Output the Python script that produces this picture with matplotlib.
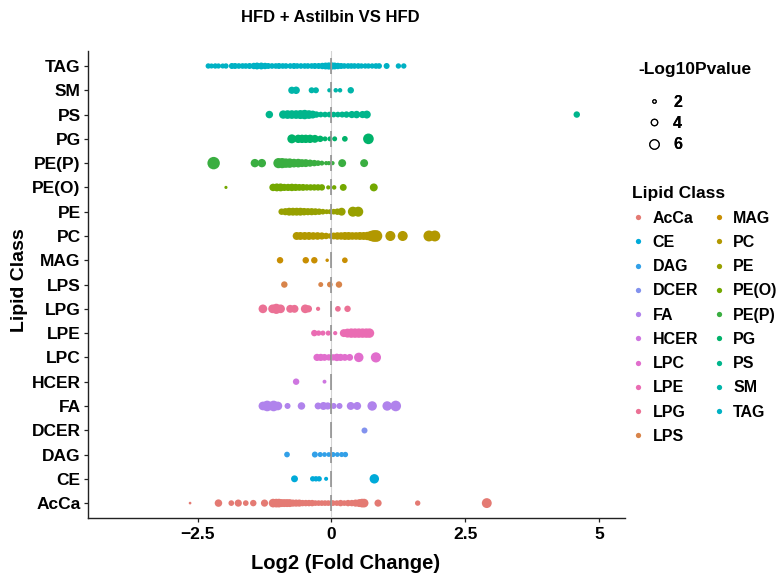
import numpy as np
import pandas as pd
import matplotlib
matplotlib.use("Agg")
import matplotlib.pyplot as plt
from matplotlib.lines import Line2D

# lipid classes, bottom to top on the y axis
classes = ["AcCa", "CE", "DAG", "DCER", "FA", "HCER", "LPC", "LPE", "LPG",
           "LPS", "MAG", "PC", "PE", "PE(O)", "PE(P)", "PG", "PS", "SM", "TAG"]

# log2 fold change and -log10 p value
ACCA_FC = [-2.64, -2.11, -1.87, -1.74, -1.60, -1.46, -1.25, -1.09, -1.03, -0.98,
           -0.93, -0.88, -0.83, -0.78, -0.72, -0.66, -0.60, -0.54, -0.48, -0.42,
           -0.36, -0.30, -0.24, -0.18, -0.12, -0.06, 0.00, 0.03, 0.10, 0.17,
           0.24, 0.31, 0.38, 0.45, 0.52, 0.57, 0.61, 0.87, 1.61, 2.90]
ACCA_P = [1.0, 4.2, 3.0, 4.0, 3.0, 3.5, 4.0, 5.0, 5.0, 5.0,
          4.5, 4.5, 4.5, 4.5, 4.0, 4.0, 4.0, 3.5, 3.5, 3.5,
          3.5, 3.0, 3.0, 3.0, 3.0, 3.0, 3.0, 3.0, 3.0, 3.5,
          3.0, 3.5, 3.5, 4.0, 4.5, 5.0, 5.0, 4.0, 2.8, 5.8]

CE_FC = [-0.69, -0.35, -0.29, -0.23, -0.10, 0.80]
CE_P = [3.8, 2.8, 2.8, 2.8, 1.9, 5.5]

DAG_FC = [-0.83, -0.31, -0.21, -0.13, -0.05, 0.03, 0.11, 0.19, 0.26]
DAG_P = [3.0, 3.2, 2.6, 2.4, 2.4, 2.6, 2.4, 2.6, 2.8]

DCER_FC = [0.61]
DCER_P = [3.2]

FA_FC = [-1.28, -1.20, -1.08, -1.00, -0.82, -0.56, -0.25, -0.15, -0.07, 0.04,
         0.15, 0.36, 0.48, 0.76, 1.04, 1.20]
FA_P = [5.0, 6.3, 6.3, 5.0, 3.2, 4.2, 3.8, 4.5, 4.0, 3.2,
        3.2, 4.5, 4.5, 5.5, 5.5, 6.3]

HCER_FC = [-0.66, -0.13]
HCER_P = [3.5, 1.8]

LPC_FC = [-0.27, -0.20, -0.13, -0.05, 0.03, 0.10, 0.17, 0.25, 0.34, 0.51, 0.83]
LPC_P = [4.0, 4.0, 3.8, 3.5, 3.5, 4.2, 4.0, 3.8, 3.8, 5.5, 6.0]

LPE_FC = [-0.32, -0.24, -0.16, -0.06, 0.07, 0.23, 0.30, 0.37, 0.44, 0.51,
          0.58, 0.65, 0.71]
LPE_P = [3.5, 2.8, 2.6, 2.6, 2.0, 4.5, 5.2, 5.5, 5.5, 5.5,
         5.5, 5.5, 5.5]

LPG_FC = [-1.28, -1.10, -1.03, -0.95, -0.77, -0.69, -0.49, -0.43, -0.25, 0.12, 0.30]
LPG_P = [5.0, 5.0, 6.0, 5.0, 4.5, 4.5, 5.0, 4.0, 2.0, 3.0, 3.5]

LPS_FC = [-0.88, -0.20, -0.03, 0.14]
LPS_P = [3.5, 2.5, 3.0, 3.5]

MAG_FC = [-0.96, -0.48, -0.32, -0.08, 0.25]
MAG_P = [3.5, 3.5, 3.5, 1.5, 3.0]

PC_FC = [-0.65, -0.58, -0.50, -0.42, -0.34, -0.26, -0.18, -0.10, -0.03, 0.04,
         0.11, 0.18, 0.25, 0.32, 0.39, 0.46, 0.53, 0.60, 0.67, 0.74,
         0.79, 0.84, 1.10, 1.33, 1.82, 1.93]
PC_P = [4.5, 4.5, 4.5, 4.5, 4.3, 4.3, 4.0, 3.5, 2.8, 3.8,
        4.2, 4.2, 4.5, 4.5, 4.3, 4.3, 4.5, 4.5, 4.8, 6.0,
        7.0, 7.0, 5.9, 5.9, 6.5, 6.5]

PE_FC = [-0.93, -0.86, -0.79, -0.72, -0.65, -0.58, -0.51, -0.44, -0.37, -0.30,
         -0.23, -0.16, -0.09, -0.03, 0.04, 0.11, 0.19, 0.40, 0.50]
PE_P = [3.5, 4.0, 4.5, 4.5, 4.5, 4.5, 4.2, 4.0, 4.0, 3.8,
        3.5, 3.0, 2.5, 2.5, 3.0, 3.5, 4.5, 5.9, 5.9]

PEO_FC = [-1.97, -1.09, -1.02, -0.95, -0.88, -0.81, -0.74, -0.67, -0.60, -0.53,
          -0.46, -0.39, -0.32, -0.25, -0.18, -0.06, 0.05, 0.22, 0.79]
PEO_P = [1.3, 4.2, 4.5, 4.5, 4.0, 4.0, 4.2, 4.0, 3.8, 3.8,
         3.5, 3.5, 3.5, 3.5, 3.5, 2.0, 2.2, 3.8, 4.5]

PEP_FC = [-2.20, -1.43, -1.30, -0.99, -0.92, -0.85, -0.78, -0.70, -0.62, -0.55,
          -0.48, -0.40, -0.32, -0.25, -0.18, -0.10, -0.05, 0.02, 0.20, 0.61]
PEP_P = [7.5, 4.8, 4.8, 6.0, 6.0, 5.5, 5.5, 5.0, 5.0, 4.5,
         4.5, 4.0, 3.5, 3.0, 2.5, 2.0, 2.0, 2.0, 4.5, 4.5]

PG_FC = [-0.74, -0.62, -0.55, -0.48, -0.40, -0.31, -0.21, -0.12, -0.03, 0.06, 0.25, 0.69]
PG_P = [5.2, 4.8, 4.8, 4.8, 4.8, 4.5, 3.5, 2.5, 2.5, 2.5, 3.0, 6.3]

PS_FC = [-1.16, -0.90, -0.82, -0.74, -0.66, -0.58, -0.50, -0.42, -0.35, -0.28,
         -0.20, -0.12, -0.04, 0.04, 0.12, 0.20, 0.28, 0.38, 0.47, 0.58,
         0.66, 4.58]
PS_P = [4.2, 4.8, 5.0, 5.0, 5.0, 5.2, 5.5, 5.0, 4.5, 3.5,
        3.0, 3.0, 3.0, 3.0, 3.0, 3.2, 3.5, 4.0, 4.2, 4.0,
        4.5, 3.5]

SM_FC = [-0.74, -0.66, -0.37, -0.29, -0.04, 0.08, 0.16, 0.36]
SM_P = [4.0, 4.2, 3.2, 3.2, 2.0, 2.2, 2.2, 3.5]

TAG_FC = [-2.30, -2.24, -2.17, -2.11, -2.03, -1.97, -1.86, -1.80, -1.73, -1.66,
          -1.60, -1.53, -1.45, -1.39, -1.31, -1.24, -1.18, -1.11, -1.04, -0.98,
          -0.91, -0.85, -0.77, -0.70, -0.64, -0.57, -0.50, -0.44, -0.37, -0.31,
          -0.24, -0.17, -0.11, -0.05, 0.01, 0.06, 0.12, 0.18, 0.24, 0.31,
          0.37, 0.43, 0.50, 0.56, 0.63, 0.69, 0.76, 0.83, 0.89, 1.03,
          1.25, 1.35]
TAG_P = [2.8, 2.6, 2.8, 2.7, 2.6, 2.8, 3.2, 3.2, 3.0, 3.0,
         3.0, 3.2, 3.5, 3.8, 3.8, 3.5, 3.2, 3.0, 3.0, 3.2,
         3.0, 3.0, 3.0, 3.2, 3.0, 3.0, 3.0, 3.0, 3.0, 3.2,
         3.2, 3.5, 3.8, 4.0, 4.0, 3.8, 3.5, 3.2, 3.0, 3.0,
         3.0, 3.0, 3.0, 2.8, 2.8, 2.8, 2.8, 3.0, 3.0, 3.2,
         2.8, 2.8]

fc_lists = [ACCA_FC, CE_FC, DAG_FC, DCER_FC, FA_FC, HCER_FC, LPC_FC, LPE_FC,
            LPG_FC, LPS_FC, MAG_FC, PC_FC, PE_FC, PEO_FC, PEP_FC, PG_FC,
            PS_FC, SM_FC, TAG_FC]
p_lists = [ACCA_P, CE_P, DAG_P, DCER_P, FA_P, HCER_P, LPC_P, LPE_P,
           LPG_P, LPS_P, MAG_P, PC_P, PE_P, PEO_P, PEP_P, PG_P,
           PS_P, SM_P, TAG_P]

size_breaks = [2, 4, 6]

# order of the classes round the colour wheel
hue_order = ["AcCa", "LPS", "MAG", "PC", "PE", "PE(O)", "PE(P)", "PG", "PS",
             "SM", "TAG", "CE", "DAG", "DCER", "FA", "HCER", "LPC", "LPE", "LPG"]

FONT = "Liberation Sans"
DPI = 100


def hcl(h, c=100.0, l=65.0):
    """polar Luv to sRGB, like R's hcl()"""
    h = np.deg2rad(h)
    u = c * np.cos(h)
    v = c * np.sin(h)
    xn, yn, zn = 95.047, 100.0, 108.883
    un = 4 * xn / (xn + 15 * yn + 3 * zn)
    vn = 9 * yn / (xn + 15 * yn + 3 * zn)
    y = yn * ((l + 16) / 116.0) ** 3
    up = u / (13 * l) + un
    vp = v / (13 * l) + vn
    x = 9.0 * y * up / (4 * vp)
    z = y * (12 - 3 * up - 20 * vp) / (4 * vp)
    m = np.array([[3.240479, -1.537150, -0.498535],
                  [-0.969256, 1.875992, 0.041556],
                  [0.055648, -0.204043, 1.057311]])
    rgb = m.dot(np.array([x, y, z]) / 100.0)
    rgb = np.where(rgb <= 0.0031308, 12.92 * rgb,
                   1.055 * np.power(np.clip(rgb, 0, None), 1 / 2.4) - 0.055)
    return tuple(np.clip(rgb, 0, 1))


def class_colors():
    n = len(hue_order)
    hues = 15 + 360.0 * np.arange(n) / n
    # the picture is a little duller than the stock ggplot hues
    return dict((name, hcl(hh, c=80, l=63)) for name, hh in zip(hue_order, hues))


def diameter_pt(p):
    # -log10 p -> marker diameter in points
    return (1.2 + 1.5 * np.asarray(p)) * 72.0 / DPI


def make_table():
    frames = []
    for name, fc, p in zip(classes, fc_lists, p_lists):
        frames.append(pd.DataFrame({"lipid": name, "fc": fc, "p": p}))
    return pd.concat(frames, ignore_index=True)


def main():
    data = make_table()
    colors = class_colors()

    fig = plt.figure(figsize=(7.78, 5.81), dpi=DPI)
    ax = fig.add_axes([0.1135, 0.109, 0.6898, 0.8025])

    for ii, name in enumerate(classes):
        sub = data[data["lipid"] == name]
        ax.scatter(sub["fc"], np.full(len(sub), ii),
                   s=diameter_pt(sub["p"]) ** 2, color=colors[name],
                   linewidths=0, zorder=2)

    # zero line, darker where it crosses a row
    ax.axvline(0, color="#d4d4d4", lw=0.8, zorder=3)
    ypos = np.arange(len(classes))
    ax.vlines(np.zeros(len(ypos)), ypos - 0.33, ypos + 0.33,
              color="#8a8a8a", lw=1.1, zorder=3)

    ax.set_xlim(-4.54, 5.48)
    ax.set_ylim(-0.6, len(classes) - 0.4)
    ax.set_xticks([-2.5, 0, 2.5, 5])
    ax.set_xticklabels(["\u22122.5", "0", "2.5", "5"])
    ax.set_yticks(ypos)
    ax.set_yticklabels(classes)
    for spine in ["top", "right"]:
        ax.spines[spine].set_visible(False)
    for spine in ["left", "bottom"]:
        ax.spines[spine].set_color("#222222")
        ax.spines[spine].set_linewidth(1.0)
    ax.tick_params(axis="both", length=3, width=0.9, color="#222222",
                   labelsize=12.5, pad=2.5)
    ax.tick_params(axis="x", labelsize=12.5, pad=4)
    for lab in ax.get_xticklabels() + ax.get_yticklabels():
        lab.set_fontfamily(FONT)
        lab.set_fontweight("bold")

    ax.set_xlabel("Log2 (Fold Change)", fontsize=14.5, fontweight="bold",
                  family=FONT)
    ax.xaxis.set_label_coords(0.48, -0.099)
    ax.xaxis.label.set_va("center")
    ax.set_ylabel("Lipid Class", fontsize=14, fontweight="bold", family=FONT)
    ax.yaxis.set_label_coords(-0.128, 0.51)
    ax.yaxis.label.set_va("center")

    fig.text(330.0 / 778, 1 - 18.0 / 581, "HFD + Astilbin VS HFD",
             ha="center", va="center", fontsize=12, fontweight="bold",
             family=FONT)

    legend_font = {"family": FONT, "weight": "bold", "size": 11.5}

    # size legend
    fig.text(638.0 / 778, 1 - 70.0 / 581, "-Log10Pvalue", ha="left",
             va="center", fontsize=12.5, fontweight="bold", family=FONT)
    size_handles = [Line2D([], [], ls="", marker="o", markerfacecolor="white",
                           markeredgecolor="black", markeredgewidth=0.9,
                           markersize=diameter_pt(b) - 0.6)
                    for b in size_breaks]
    leg1 = fig.legend(size_handles, [str(b) for b in size_breaks],
                      loc="upper left", bbox_to_anchor=(638.0 / 778, 0.851),
                      frameon=False, borderpad=0, handlelength=1.0,
                      handletextpad=0.7, labelspacing=0.4, prop=legend_font)

    # colour legend
    color_handles = [Line2D([], [], ls="", marker="o", markersize=3.8,
                            markerfacecolor=colors[name], markeredgewidth=0)
                     for name in classes]
    fig.legend(color_handles, classes, title="Lipid Class", ncol=2,
               loc="upper left", bbox_to_anchor=(0.802, 0.693), frameon=False,
               borderpad=0, handlelength=0.8, handletextpad=0.5,
               labelspacing=0.58, columnspacing=0.9, alignment="left",
               prop=legend_font,
               title_fontproperties={"family": FONT, "weight": "bold",
                                     "size": 12.5})
    fig.add_artist(leg1)

    fig.savefig("out.png", dpi=DPI)


if __name__ == "__main__":
    main()
